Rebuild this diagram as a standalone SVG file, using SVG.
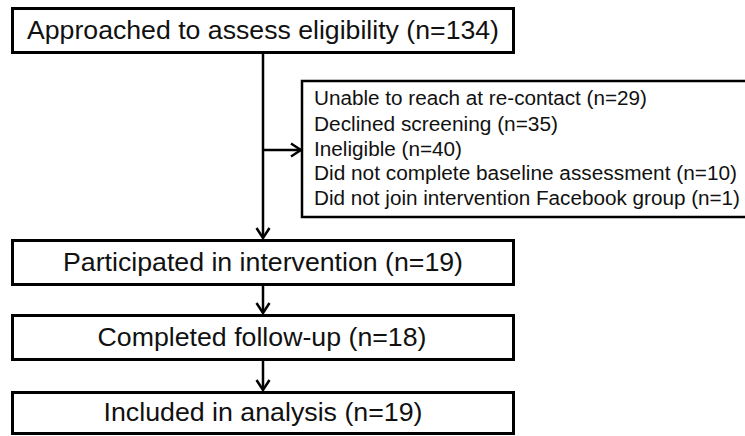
<svg xmlns="http://www.w3.org/2000/svg" width="745" height="436" viewBox="0 0 745 436">
<style>
.box{fill:#fff;stroke:#000;stroke-width:3}
.box2{fill:#fff;stroke:#000;stroke-width:2.5}
.t{font-family:"Liberation Sans",Arial,sans-serif;font-size:25px;fill:#111}
.s{font-family:"Liberation Sans",Arial,sans-serif;font-size:20px;fill:#111}
.c{fill:none;stroke:#000;stroke-width:2.5}
</style>
<defs>
<marker id="ah" viewBox="0 0 12 16" refX="11" refY="8" markerWidth="12" markerHeight="16" markerUnits="userSpaceOnUse" orient="auto">
<path d="M1,1.5 L11,8 L1,14.5" fill="none" stroke="#000" stroke-width="2.5"/>
</marker>
</defs>
<g id="connectors">
<path class="c" d="M263,52 V238" marker-end="url(#ah)"/>
<path class="c" d="M263,150 H301" marker-end="url(#ah)"/>
<path class="c" d="M263,285 V313" marker-end="url(#ah)"/>
<path class="c" d="M263,360 V390" marker-end="url(#ah)"/>
</g>
<g id="node-approached">
<rect class="box" x="12.5" y="8.5" width="501" height="44"/>
<text class="t" x="263" y="39" text-anchor="middle" textLength="472" lengthAdjust="spacingAndGlyphs">Approached to assess eligibility (n=134)</text>
</g>
<g id="node-excluded">
<rect class="box2" x="302" y="81" width="446" height="136"/>
<text class="s" x="314" y="105" textLength="333" lengthAdjust="spacingAndGlyphs">Unable to reach at re-contact (n=29)</text>
<text class="s" x="314" y="131" textLength="244" lengthAdjust="spacingAndGlyphs">Declined screening (n=35)</text>
<text class="s" x="314" y="156" textLength="148" lengthAdjust="spacingAndGlyphs">Ineligible (n=40)</text>
<text class="s" x="314" y="180" textLength="423" lengthAdjust="spacingAndGlyphs">Did not complete baseline assessment (n=10)</text>
<text class="s" x="314" y="205" textLength="426" lengthAdjust="spacingAndGlyphs">Did not join intervention Facebook group (n=1)</text>
</g>
<g id="node-participated">
<rect class="box" x="12.5" y="240.5" width="501" height="44"/>
<text class="t" x="263" y="271" text-anchor="middle" textLength="400" lengthAdjust="spacingAndGlyphs">Participated in intervention (n=19)</text>
</g>
<g id="node-followup">
<rect class="box" x="12.5" y="315.5" width="501" height="44"/>
<text class="t" x="262" y="346" text-anchor="middle" textLength="329" lengthAdjust="spacingAndGlyphs">Completed follow-up (n=18)</text>
</g>
<g id="node-analysis">
<rect class="box" x="12.5" y="392.5" width="501" height="41"/>
<text class="t" x="263" y="421" text-anchor="middle" textLength="319" lengthAdjust="spacingAndGlyphs">Included in analysis (n=19)</text>
</g>
</svg>
